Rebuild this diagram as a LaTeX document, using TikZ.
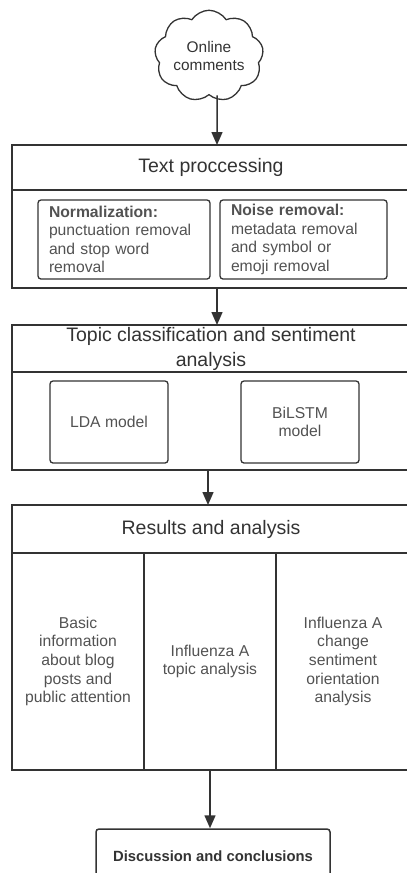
\documentclass[tikz,border=0pt]{standalone}
\usepackage{fontspec}
\setmainfont{Liberation Sans}
\usetikzlibrary{arrows.meta}
\usetikzlibrary{positioning}
\usetikzlibrary{shapes.symbols}
\definecolor{mgray}{rgb}{0.2, 0.2, 0.2}
\definecolor{lgray}{rgb}{0.32, 0.32, 0.32}
\tikzset{head/.style = {draw = mgray, line width = 1.5pt, outer sep = 0, inner sep = 0, minimum width = 398pt, text = mgray, align = center, font = \fontsize{19.5}{25}\selectfont}}
\tikzset{body/.style = {draw = mgray, line width = 1.5pt, outer sep = 0, inner sep = 0, minimum width = 398pt}}
\tikzset{inbox/.style = {draw = mgray, line width = 1.3pt, rounded corners = 3pt, inner xsep = 11pt, inner ysep = 0, text = lgray, font = \fontsize{15.7}{18.5}\selectfont}}
\tikzset{col/.style = {draw = mgray, line width = 1.5pt, outer sep = 0, inner sep = 0, minimum width = 132pt, minimum height = 217pt, align = center, text = lgray, font = \fontsize{15.7}{18.7}\selectfont}}
\tikzset{arr/.style = {mgray, line width = 1.5pt, -{Triangle[width = 11pt, length = 13pt]}}}

\begin{document}
\begin{tikzpicture}[x = 1pt, y = -1pt]
    \useasboundingbox (0, 0) rectangle (407, 873);
    \clip (0, 0) rectangle (407, 873);

    \node [cloud, draw = mgray, line width = 1.3pt, cloud puffs = 9, cloud puff arc = 115, aspect = 1.3, minimum width = 105pt, minimum height = 82pt, inner sep = 0, align = center, text = mgray, font = \fontsize{15.4}{18}\selectfont] (src) at (209, 56) {Online\\comments};

    % text processing
    \node [head, minimum height = 45pt] (txth) at (211, 167.5) {Text proccessing};
    \node [body, minimum height = 98pt, below = 0pt of txth] (txtb) {};
    \node [inbox, text width = 150pt, minimum height = 79pt, align = left] (norm) at (124, 239.5) {\textbf{Normalization:}\\punctuation removal\\and stop word\\removal};
    \node [inbox, text width = 145pt, minimum height = 79pt, align = left] (noise) at (303.5, 239.5) {\textbf{Noise removal:}\\metadata removal\\and symbol or\\emoji removal};

    % topic classification
    \node [head, minimum height = 47pt] (toph) at (211, 348.5) {Topic classification and sentiment\\analysis};
    \node [body, minimum height = 98pt, below = 0pt of toph] (topb) {};
    \node [inbox, minimum width = 118pt, minimum height = 82pt, align = center] (lda) at (109, 422) {LDA model};
    \node [inbox, minimum width = 118pt, minimum height = 82pt, align = center] (bilstm) at (300, 422) {BiLSTM\\model};

    % results
    \node [head, minimum height = 48pt] (resh) at (211, 529) {Results and analysis};
    \node [col, anchor = north west] (c1) at (resh.south west) {Basic\\information\\about blog\\posts and\\public attention};
    \node [col, right = 0pt of c1] (c2) {Influenza A\\topic analysis};
    \node [col, right = 0pt of c2, minimum width = 134pt] (c3) {Influenza A\\change\\sentiment\\orientation\\analysis};

    \node [draw = mgray, line width = 1.5pt, rounded corners = 3pt, minimum width = 234pt, minimum height = 54pt, text = mgray, font = \fontsize{14.8}{18}\selectfont\bfseries] (disc) at (213, 856) {Discussion and conclusions};

    \draw [arr] ([xshift = 8pt]src.south) -- ([xshift = 6pt]txth.north);
    \draw [arr] ([xshift = 6pt]txtb.south) -- ([xshift = 6pt]toph.north);
    \draw [arr] ([xshift = -3pt]topb.south) -- ([xshift = -3pt]resh.north);
    \draw [arr] (c2.south) -- (c2.south |- disc.north);
\end{tikzpicture}
\end{document}
